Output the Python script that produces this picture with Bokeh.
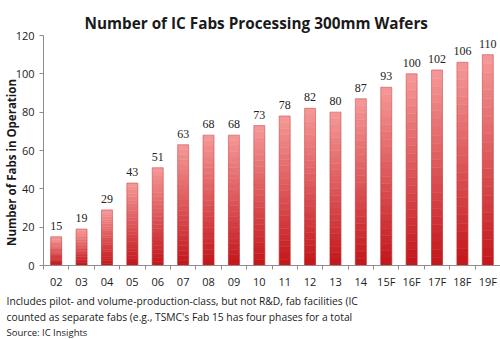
from bokeh.plotting import figure
from bokeh.models import Range1d, FixedTicker, Title, ColumnDataSource
from bokeh.embed import file_html
from bokeh.resources import INLINE

years = ["02", "03", "04", "05", "06", "07", "08", "09", "10", "11",
         "12", "13", "14", "15F", "16F", "17F", "18F", "19F"]
fabs = [15, 19, 29, 43, 51, 63, 68, 68, 73, 78, 82, 80, 87, 93, 100, 102, 106, 110]
y_ticks = [0, 20, 40, 60, 80, 100, 120]

title_text = "Number of IC Fabs Processing 300mm Wafers"
y_label = "Number of Fabs in Operation"
note1 = "Includes pilot- and volume-production-class, but not R&D, fab facilities (IC"
note2 = "counted as separate fabs (e.g., TSMC's Fab 15 has four phases for a total"
source = "Source: IC Insights"

FONT = "Open Sans"
n = len(years)
xs = list(range(n))

p = figure(width=500, height=339, output_backend="svg", toolbar_location=None,
           x_range=Range1d(-0.5, n - 0.5), y_range=Range1d(0, 120),
           min_border_left=40, min_border_right=0, min_border_top=35,
           min_border_bottom=74, outline_line_color=None)
p.grid.grid_line_color = None
p.background_fill_color = "white"
p.border_fill_color = "white"

# gradient bars: stacked bands from dark red (bottom) to pink (top)
N = 24
c0 = (196, 24, 28)
c1 = (245, 150, 150)
bx, bb, bt, bc = [], [], [], []
for i, v in zip(xs, fabs):
    for k in range(N):
        f = k / (N - 1)
        col = tuple(int(round(c0[j] + (c1[j] - c0[j]) * f)) for j in range(3))
        bx.append(i)
        bb.append(v * k / N)
        bt.append(v * (k + 1) / N)
        bc.append("#%02x%02x%02x" % col)
src = ColumnDataSource(dict(x=bx, bottom=bb, top=bt, color=bc))
p.vbar(x="x", bottom="bottom", top="top", width=0.43, fill_color="color",
       line_color="color", line_width=0.5, source=src)
p.vbar(x=xs, top=fabs, width=0.43, fill_color=None, line_color="#b03030",
       line_alpha=0.35, line_width=1)

# value labels
p.text(x=xs, y=fabs, text=[str(v) for v in fabs], y_offset=-7,
       text_align="center", text_baseline="bottom", text_font_size="12px",
       text_color="#222222", text_font=FONT)

# axes
yax = p.yaxis[0]
yax.ticker = FixedTicker(ticks=y_ticks)
yax.axis_line_color = "#8c8c8c"
yax.major_tick_line_color = "#8c8c8c"
yax.major_tick_out = 4
yax.major_tick_in = 0
yax.minor_tick_line_color = None
yax.major_label_text_font = FONT
yax.major_label_text_font_size = "11px"
yax.major_label_text_color = "#222222"
yax.major_label_standoff = 5
yax.axis_label = y_label + "\u00a0" * 8
yax.axis_label_text_font = FONT
yax.axis_label_text_font_style = "bold"
yax.axis_label_text_font_size = "11.5px"
yax.axis_label_text_color = "#1a1a1a"
yax.axis_label_standoff = -6

xax = p.xaxis[0]
xax.ticker = FixedTicker(ticks=xs, minor_ticks=[i + 0.5 for i in xs[:-1]] + [-0.5])
xax.major_label_overrides = {i: y for i, y in zip(xs, years)}
xax.axis_line_color = "#8c8c8c"
xax.major_tick_line_color = None
xax.major_tick_out = 0
xax.major_tick_in = 0
xax.minor_tick_line_color = "#8c8c8c"
xax.minor_tick_out = 4
xax.minor_tick_in = 0
xax.major_label_text_font = FONT
xax.major_label_text_font_size = "11px"
xax.major_label_text_color = "#222222"
xax.major_label_standoff = 4

# title and notes
p.add_layout(Title(text=title_text, align="left", offset=41, standoff=5,
                   text_font=FONT, text_font_style="bold", text_font_size="15.3px",
                   text_color="#1a1a1a"), "above")
for txt, size in [(note1, "10.3px"), (note2, "10.3px"), (source, "9.5px")]:
    p.add_layout(Title(text=txt, align="left", offset=-37, standoff=0,
                       text_font=FONT, text_font_style="normal", text_font_size=size,
                       text_color="#1a1a1a"), "below")

open("out.html", "w").write(file_html(p, INLINE))
